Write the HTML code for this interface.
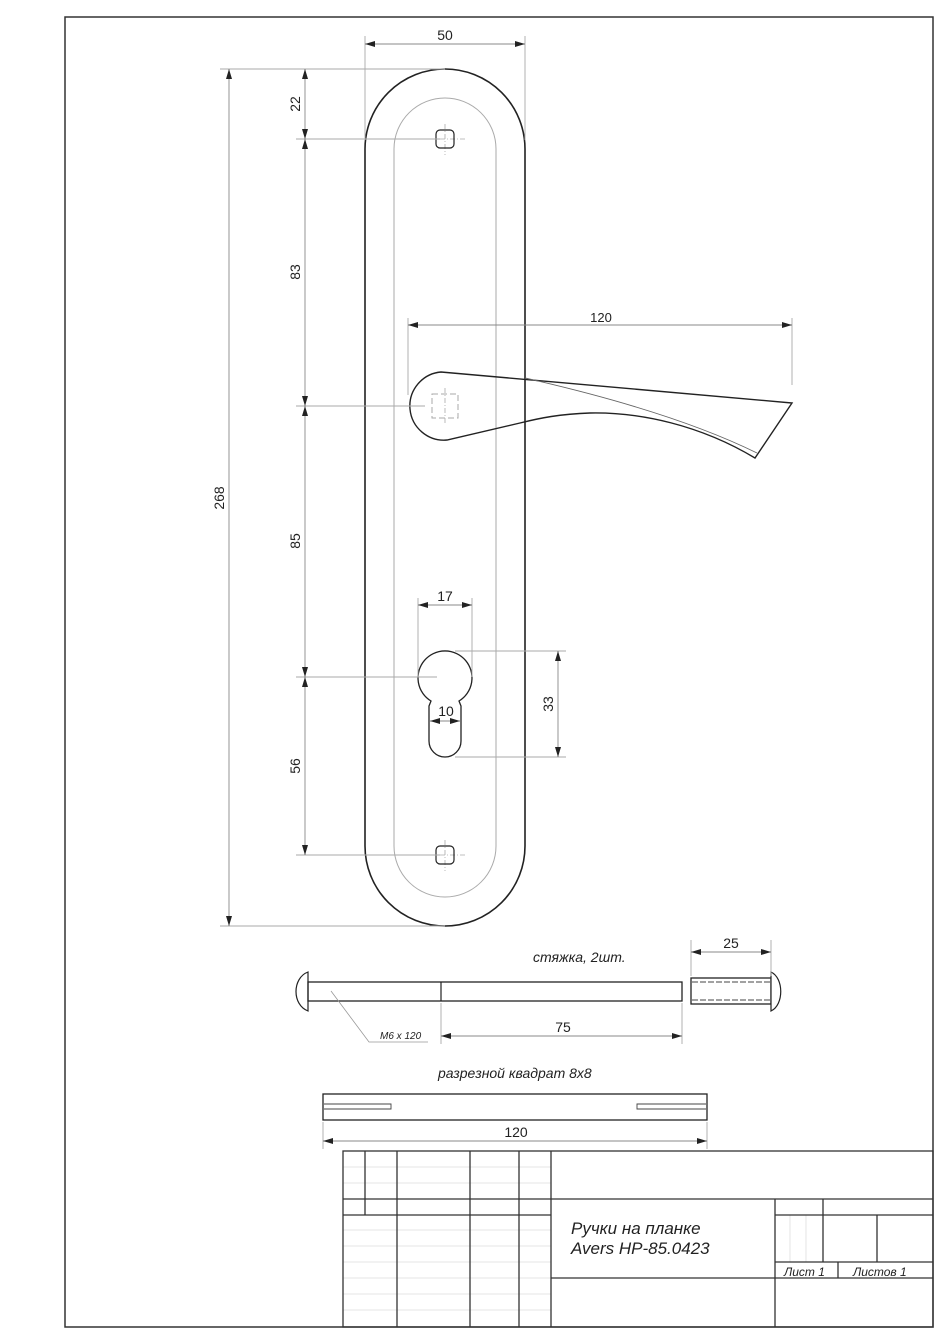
<!DOCTYPE html>
<html><head><meta charset="utf-8"><style>
html,body{margin:0;padding:0;background:#fff;}
svg{display:block;}
text{font-family:"Liberation Sans",sans-serif;fill:#222;}
</style></head><body>
<svg width="950" height="1343" viewBox="0 0 950 1343" xmlns="http://www.w3.org/2000/svg">
<defs>
<marker id="a" viewBox="0 0 10 6" refX="10" refY="3" markerWidth="10" markerHeight="6" orient="auto-start-reverse" markerUnits="userSpaceOnUse"><path d="M0,0 L10,3 L0,6 z" fill="#222"/></marker>
</defs>
<rect x="65" y="17" width="868" height="1310" fill="none" stroke="#333" stroke-width="1.5"/>

<path d="M365,149 A80,80 0 0 1 525,149 L525,846 A80,80 0 0 1 365,846 Z" fill="none" stroke="#222" stroke-width="1.6"/>
<path d="M394,149 A51,51 0 0 1 496,149 L496,846 A51,51 0 0 1 394,846 Z" fill="none" stroke="#aaa" stroke-width="1"/>

<g stroke="#aaa" stroke-width="0.8" stroke-dasharray="5,2,1,2" fill="none">
<line x1="445" y1="124" x2="445" y2="155"/><line x1="430" y1="139" x2="465" y2="139"/>
<line x1="445" y1="840" x2="445" y2="871"/><line x1="430" y1="855" x2="465" y2="855"/>
</g>
<rect x="436" y="130" width="18" height="18" rx="4" fill="none" stroke="#222" stroke-width="1.2"/>
<rect x="436" y="846" width="18" height="18" rx="4" fill="none" stroke="#222" stroke-width="1.2"/>

<path d="M431,701 A27,27 0 1 1 459,701 L461,706 L461,741 A16,16 0 0 1 429,741 L429,706 Z" fill="#fff" stroke="#222" stroke-width="1.3"/>

<path d="M441,372 L792,403 L755,458 C700,425 640,412 590,413 C560,414 540,418 520,423 L447,440 A34,34 0 0 1 441,372 Z" fill="none" stroke="#222" stroke-width="1.4"/>
<path d="M525,378 C600,395 690,420 757,453" fill="none" stroke="#666" stroke-width="0.9"/>
<rect x="432" y="394" width="26" height="24" fill="none" stroke="#aaa" stroke-width="1" stroke-dasharray="6,3"/>
<line x1="445" y1="388" x2="445" y2="425" stroke="#aaa" stroke-width="0.8" stroke-dasharray="5,2,1,2"/>

<g stroke="#aaa" stroke-width="0.9" fill="none">
<line x1="220" y1="69" x2="445" y2="69"/>
<line x1="220" y1="926" x2="445" y2="926"/>
<line x1="296" y1="139" x2="440" y2="139"/>
<line x1="296" y1="406" x2="425" y2="406"/>
<line x1="296" y1="677" x2="437" y2="677"/>
<line x1="296" y1="855" x2="440" y2="855"/>
<line x1="365" y1="36" x2="365" y2="140"/>
<line x1="525" y1="36" x2="525" y2="140"/>
<line x1="408" y1="318" x2="408" y2="395"/>
<line x1="792" y1="318" x2="792" y2="385"/>
<line x1="418" y1="598" x2="418" y2="677"/>
<line x1="472" y1="598" x2="472" y2="677"/>
<line x1="455" y1="651" x2="566" y2="651"/>
<line x1="455" y1="757" x2="566" y2="757"/>
</g>
<g stroke="#888" stroke-width="0.9" fill="none" marker-start="url(#a)" marker-end="url(#a)">
<line x1="229" y1="69" x2="229" y2="926"/>
<line x1="305" y1="69" x2="305" y2="139"/>
<line x1="305" y1="139" x2="305" y2="406"/>
<line x1="305" y1="406" x2="305" y2="677"/>
<line x1="305" y1="677" x2="305" y2="855"/>
<line x1="365" y1="44" x2="525" y2="44"/>
<line x1="408" y1="325" x2="792" y2="325"/>
<line x1="418" y1="605" x2="472" y2="605"/>
<line x1="430" y1="721" x2="460" y2="721"/>
<line x1="558" y1="651" x2="558" y2="757"/>
</g>
<text x="445" y="40" font-size="14" text-anchor="middle">50</text>
<text x="601" y="322" font-size="13" text-anchor="middle">120</text>
<text x="445" y="601" font-size="14" text-anchor="middle">17</text>
<text x="446" y="716" font-size="14" text-anchor="middle">10</text>
<text font-size="14" text-anchor="middle" transform="translate(553,704) rotate(-90)">33</text>
<text font-size="14" text-anchor="middle" transform="translate(224,498) rotate(-90)">268</text>
<text font-size="14" text-anchor="middle" transform="translate(300,104) rotate(-90)">22</text>
<text font-size="14" text-anchor="middle" transform="translate(300,272) rotate(-90)">83</text>
<text font-size="14" text-anchor="middle" transform="translate(300,541) rotate(-90)">85</text>
<text font-size="14" text-anchor="middle" transform="translate(300,766) rotate(-90)">56</text>

<text x="533" y="962" font-size="14" font-style="italic">стяжка, 2шт.</text>
<path d="M308,972 C292,978 292,1005 308,1011 Z" fill="#fff" stroke="#222" stroke-width="1.2"/>
<rect x="308" y="982" width="374" height="19" fill="none" stroke="#222" stroke-width="1.3"/>
<line x1="441" y1="982" x2="441" y2="1001" stroke="#222" stroke-width="1.2"/>
<path d="M331,991 L369,1042 L428,1042" fill="none" stroke="#999" stroke-width="0.8"/>
<text x="380" y="1039" font-size="10" font-style="italic">M6 x 120</text>
<rect x="691" y="978" width="80" height="26" fill="none" stroke="#222" stroke-width="1.3"/>
<path d="M771,972 C784,978 784,1005 771,1011 Z" fill="#fff" stroke="#222" stroke-width="1.2"/>
<line x1="692" y1="982" x2="770" y2="982" stroke="#444" stroke-width="1.1" stroke-dasharray="6,2"/>
<line x1="692" y1="1000" x2="770" y2="1000" stroke="#444" stroke-width="1.1" stroke-dasharray="6,2"/>
<g stroke="#aaa" stroke-width="0.9"><line x1="691" y1="940" x2="691" y2="976"/><line x1="771" y1="940" x2="771" y2="976"/>
<line x1="441" y1="1003" x2="441" y2="1044"/><line x1="682" y1="1003" x2="682" y2="1044"/>
<line x1="323" y1="1122" x2="323" y2="1149"/><line x1="707" y1="1122" x2="707" y2="1149"/></g>
<g stroke="#888" stroke-width="0.9" marker-start="url(#a)" marker-end="url(#a)">
<line x1="691" y1="952" x2="771" y2="952"/>
<line x1="441" y1="1036" x2="682" y2="1036"/>
<line x1="323" y1="1141" x2="707" y2="1141"/>
</g>
<text x="731" y="948" font-size="14" text-anchor="middle">25</text>
<text x="563" y="1032" font-size="14" text-anchor="middle">75</text>
<text x="438" y="1078" font-size="14" font-style="italic">разрезной квадрат 8х8</text>
<rect x="323" y="1094" width="384" height="26" fill="none" stroke="#222" stroke-width="1.3"/>
<path d="M324,1104 L391,1104 L391,1109 L324,1109" fill="none" stroke="#444" stroke-width="0.9"/>
<path d="M706,1104 L637,1104 L637,1109 L706,1109" fill="none" stroke="#444" stroke-width="0.9"/>
<text x="516" y="1137" font-size="14" text-anchor="middle">120</text>

<g stroke="#ddd" stroke-width="0.8">
<line x1="343" y1="1167" x2="551" y2="1167"/><line x1="343" y1="1183" x2="551" y2="1183"/>
<line x1="343" y1="1230" x2="551" y2="1230"/><line x1="343" y1="1246" x2="551" y2="1246"/>
<line x1="343" y1="1262" x2="551" y2="1262"/><line x1="343" y1="1278" x2="551" y2="1278"/>
<line x1="343" y1="1294" x2="551" y2="1294"/><line x1="343" y1="1310" x2="551" y2="1310"/>
<line x1="790" y1="1215" x2="790" y2="1262"/><line x1="806" y1="1215" x2="806" y2="1262"/>
</g>
<g stroke="#333" stroke-width="1.3" fill="none">
<rect x="343" y="1151" width="590" height="176"/>
<line x1="365" y1="1151" x2="365" y2="1215"/>
<line x1="397" y1="1151" x2="397" y2="1327"/>
<line x1="470" y1="1151" x2="470" y2="1327"/>
<line x1="519" y1="1151" x2="519" y2="1327"/>
<line x1="551" y1="1151" x2="551" y2="1327"/>
<line x1="343" y1="1199" x2="933" y2="1199"/>
<line x1="343" y1="1215" x2="551" y2="1215"/>
<line x1="775" y1="1199" x2="775" y2="1327"/>
<line x1="823" y1="1199" x2="823" y2="1262"/>
<line x1="775" y1="1215" x2="933" y2="1215"/>
<line x1="877" y1="1215" x2="877" y2="1262"/>
<line x1="775" y1="1262" x2="933" y2="1262"/>
<line x1="838" y1="1262" x2="838" y2="1278"/>
<line x1="551" y1="1278" x2="933" y2="1278"/>
</g>
<text x="571" y="1234" font-size="17" font-style="italic">Ручки на планке</text>
<text x="571" y="1254" font-size="17" font-style="italic">Avers HP-85.0423</text>
<text x="784" y="1276" font-size="12" font-style="italic">Лист 1</text>
<text x="853" y="1276" font-size="12" font-style="italic">Листов 1</text>
</svg>
</body></html>
